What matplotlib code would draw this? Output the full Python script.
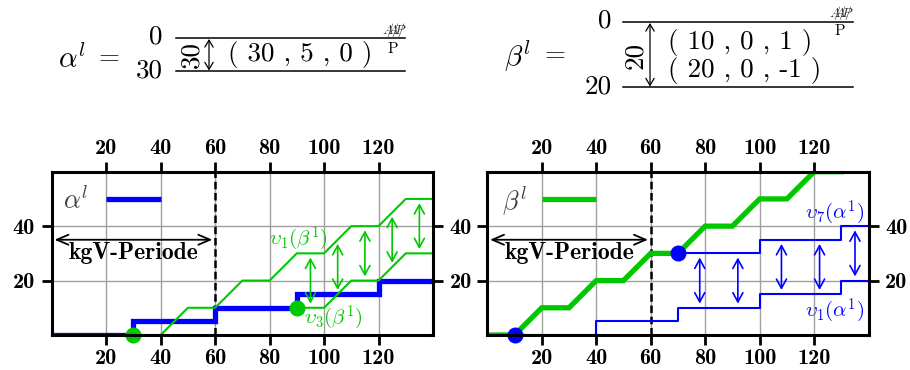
import numpy as np
import matplotlib
matplotlib.use("Agg")
import matplotlib.pyplot as plt

plt.rcParams['mathtext.fontset'] = 'cm'
plt.rcParams['axes.unicode_minus'] = False

BLUE = '#0000ff'
GREEN = '#00c800'
GREY = '#a0a0a0'

# ---- data -------------------------------------------------------------
x_ticks = [20, 40, 60, 80, 100, 120]
y_ticks = [20, 40]
period = 60

# left panel: demand curve alpha^l (steps) and beta^l bounds
alpha_x = [0, 30, 60, 90, 120, 140]
alpha_y = [0, 5, 10, 15, 20, 20]
beta_v1_x = [30, 40, 50, 60, 70, 80, 90, 100, 110, 120, 130, 140]
beta_v1_y = [0, 0, 10, 10, 20, 20, 30, 30, 40, 40, 50, 50]
beta_v3_x = [90, 100, 110, 120, 130, 140]
beta_v3_y = [10, 10, 20, 20, 30, 30]
left_dots_x = [30, 90]
left_dots_y = [0, 10]
left_arrow_x = [95, 105, 115, 125, 135]

# right panel: beta^l curve and alpha^l bounds (steps)
beta_x = [0, 10, 20, 30, 40, 50, 60, 70, 80, 90, 100, 110, 120, 130]
beta_y = [0, 0, 10, 10, 20, 20, 30, 30, 40, 40, 50, 50, 60, 60]
alpha_v1_x = [10, 40, 70, 100, 130, 140]
alpha_v1_y = [0, 5, 10, 15, 20, 20]
alpha_v7_x = [70, 100, 130, 140]
alpha_v7_y = [30, 35, 40, 40]
right_dots_x = [10, 70]
right_dots_y = [0, 30]
right_arrow_x = [78, 92, 108, 122, 135]

fig = plt.figure(figsize=(9.1, 3.7), dpi=100)


def step_value(xs, ys, x):
    idx = np.searchsorted(xs, x, side='right') - 1
    return ys[idx]


def setup(ax, left_labels, right_labels):
    ax.set_xlim(0, 140)
    ax.set_ylim(0, 60)
    ax.set_xticks(x_ticks)
    ax.set_yticks(y_ticks)
    ax.grid(True, color=GREY, lw=1.0, zorder=0)
    ax.set_axisbelow(True)
    for s in ax.spines.values():
        s.set_linewidth(2.2)
        s.set_zorder(6)
    ax.tick_params(axis='both', which='both', direction='out', length=7,
                   width=2.0, top=True, bottom=True, left=True, right=True,
                   labeltop=True, labelbottom=True,
                   labelleft=left_labels, labelright=right_labels)
    ax.tick_params(axis='x', which='both', pad=3)
    ax.tick_params(axis='y', which='both', pad=5)
    for lab in ax.get_xticklabels() + ax.get_yticklabels():
        lab.set_fontfamily('cmb10')
        lab.set_fontsize(16)
    # dashed period marker and kgV period arrow
    ax.plot([period, period], [0, 60], color='black', lw=1.8,
            dashes=(3, 1.5), zorder=3)
    ax.annotate('', xy=(0, 35), xytext=(period, 35),
                arrowprops=dict(arrowstyle='<->,head_length=0.7,head_width=0.3',
                                mutation_scale=12, color='black', lw=1.3,
                                shrinkA=2, shrinkB=2), zorder=4)
    ax.text(30, 30.3, 'kgV-Periode', ha='center', va='center',
            fontfamily='cmb10', fontsize=17, zorder=4)


def double_arrows(ax, xs, lo_fn, hi_fn, color):
    for x in xs:
        ax.annotate('', xy=(x, lo_fn(x)), xytext=(x, hi_fn(x)),
                    arrowprops=dict(arrowstyle='<->,head_length=0.55,head_width=0.3',
                                    mutation_scale=12, color=color, lw=1.2,
                                    shrinkA=3, shrinkB=3), zorder=4)


# ---- left panel ---------------------------------------------------------
ax1 = fig.add_axes([51.7 / 910, 35 / 370, 381.3 / 910, 163.3 / 370])
setup(ax1, True, True)
ax1.plot(alpha_x, alpha_y, drawstyle='steps-post', color=BLUE, lw=3.8,
         solid_joinstyle='miter', zorder=3)
ax1.plot(beta_v1_x, beta_v1_y, color=GREEN, lw=1.5, zorder=3)
ax1.plot(beta_v3_x, beta_v3_y, color=GREEN, lw=1.5, zorder=3)
ax1.plot(left_dots_x, left_dots_y, 'o', color=GREEN, ms=10.5, zorder=5,
         clip_on=False)
double_arrows(ax1, left_arrow_x,
              lambda x: np.interp(x, beta_v3_x, beta_v3_y),
              lambda x: np.interp(x, beta_v1_x, beta_v1_y), GREEN)
ax1.plot([20, 40], [50, 50], color=BLUE, lw=3.8, solid_capstyle='butt',
         zorder=3)
ax1.text(9, 49, r'$\alpha^l$', ha='center', va='center', fontsize=19,
         color='#404040', zorder=4)
ax1.text(90.5, 35.5, r'$\upsilon_{\mathbf{1}}(\beta^{\mathbf{1}})$',
         ha='center', va='center', fontsize=15, color=GREEN, zorder=4)
ax1.text(103.5, 6.3, r'$\upsilon_{\mathbf{3}}(\beta^{\mathbf{1}})$',
         ha='center', va='center', fontsize=15, color=GREEN, zorder=4)

# ---- right panel --------------------------------------------------------
ax2 = fig.add_axes([487.3 / 910, 35 / 370, 381.3 / 910, 163.3 / 370])
setup(ax2, False, True)
ax2.plot(beta_x, beta_y, color=GREEN, lw=3.8, solid_joinstyle='miter',
         zorder=3)
ax2.plot(alpha_v1_x, alpha_v1_y, drawstyle='steps-post', color=BLUE, lw=1.5,
         zorder=3)
ax2.plot(alpha_v7_x, alpha_v7_y, drawstyle='steps-post', color=BLUE, lw=1.5,
         zorder=3)
ax2.plot(right_dots_x, right_dots_y, 'o', color=BLUE, ms=10.5, zorder=5,
         clip_on=False)
double_arrows(ax2, right_arrow_x,
              lambda x: step_value(alpha_v1_x, alpha_v1_y, x),
              lambda x: step_value(alpha_v7_x, alpha_v7_y, x), BLUE)
ax2.plot([20, 40], [50, 50], color=GREEN, lw=3.8, solid_capstyle='butt',
         zorder=3)
ax2.text(9.8, 49, r'$\beta^l$', ha='center', va='center', fontsize=19,
         color='#404040', zorder=4)
ax2.text(127.5, 45.0, r'$\upsilon_{\mathbf{7}}(\alpha^{\mathbf{1}})$',
         ha='center', va='center', fontsize=15, color=BLUE, zorder=4)
ax2.text(127.5, 8.8, r'$\upsilon_{\mathbf{1}}(\alpha^{\mathbf{1}})$',
         ha='center', va='center', fontsize=15, color=BLUE, zorder=4)

# ---- formula header (pixel coordinates) ---------------------------------
hdr = fig.add_axes([0, 0, 1, 1], zorder=-1)
hdr.set_xlim(0, 910)
hdr.set_ylim(370, 0)
hdr.axis('off')

RM = dict(fontfamily='cmr10', fontsize=19.5, color='black')


def vec_arrow(x, y0, y1):
    hdr.annotate('', xy=(x, y0), xytext=(x, y1),
                 arrowprops=dict(arrowstyle='<->,head_length=0.5,head_width=0.3',
                                 mutation_scale=10, color='black', lw=0.9,
                                 shrinkA=0, shrinkB=0))


def crossed(x, y):
    hdr.text(x, y, r'$\mathit{A}\!\!\!/\!\!\!\mathit{A}\!\!\!/\!\!\mathit{P}\!\!\!/$',
             ha='center', va='center', fontsize=10, color='#333333')


# alpha^l
hdr.text(72, 59, r'$\alpha^l$', ha='center', va='center', fontsize=21)
hdr.text(109, 58, '=', ha='center', va='center', **RM)
hdr.text(163, 37, '0', ha='right', va='center', **RM)
hdr.text(163, 71, '30', ha='right', va='center', **RM)
hdr.plot([176, 405], [38.3, 38.3], color='black', lw=1.1)
hdr.plot([176, 405], [71, 71], color='black', lw=1.1)
hdr.text(192, 55, '30', ha='center', va='center', rotation=90, **RM)
vec_arrow(209, 39, 70.5)
hdr.text(228, 55, '( 30 , 5 , 0 )', ha='left', va='center', **RM)
hdr.text(393, 49, 'P', ha='center', va='center', fontfamily='cmr10',
         fontsize=11)
crossed(394, 30)

# beta^l
hdr.text(518, 56, r'$\beta^l$', ha='center', va='center', fontsize=21)
hdr.text(555, 55, '=', ha='center', va='center', **RM)
hdr.text(611.7, 21, '0', ha='right', va='center', **RM)
hdr.text(611.7, 87, '20', ha='right', va='center', **RM)
hdr.plot([623, 853], [22.3, 22.3], color='black', lw=1.1)
hdr.plot([623, 853], [87.3, 87.3], color='black', lw=1.1)
hdr.text(635, 55, '20', ha='center', va='center', rotation=90, **RM)
vec_arrow(650, 23, 86.5)
hdr.text(668, 43, '( 10 , 0 , 1 )', ha='left', va='center', **RM)
hdr.text(668, 70, '( 20 , 0 , -1 )', ha='left', va='center', **RM)
hdr.text(840, 31, 'P', ha='center', va='center', fontfamily='cmr10',
         fontsize=11)
crossed(841, 13)

fig.savefig('out.png', dpi=100)
